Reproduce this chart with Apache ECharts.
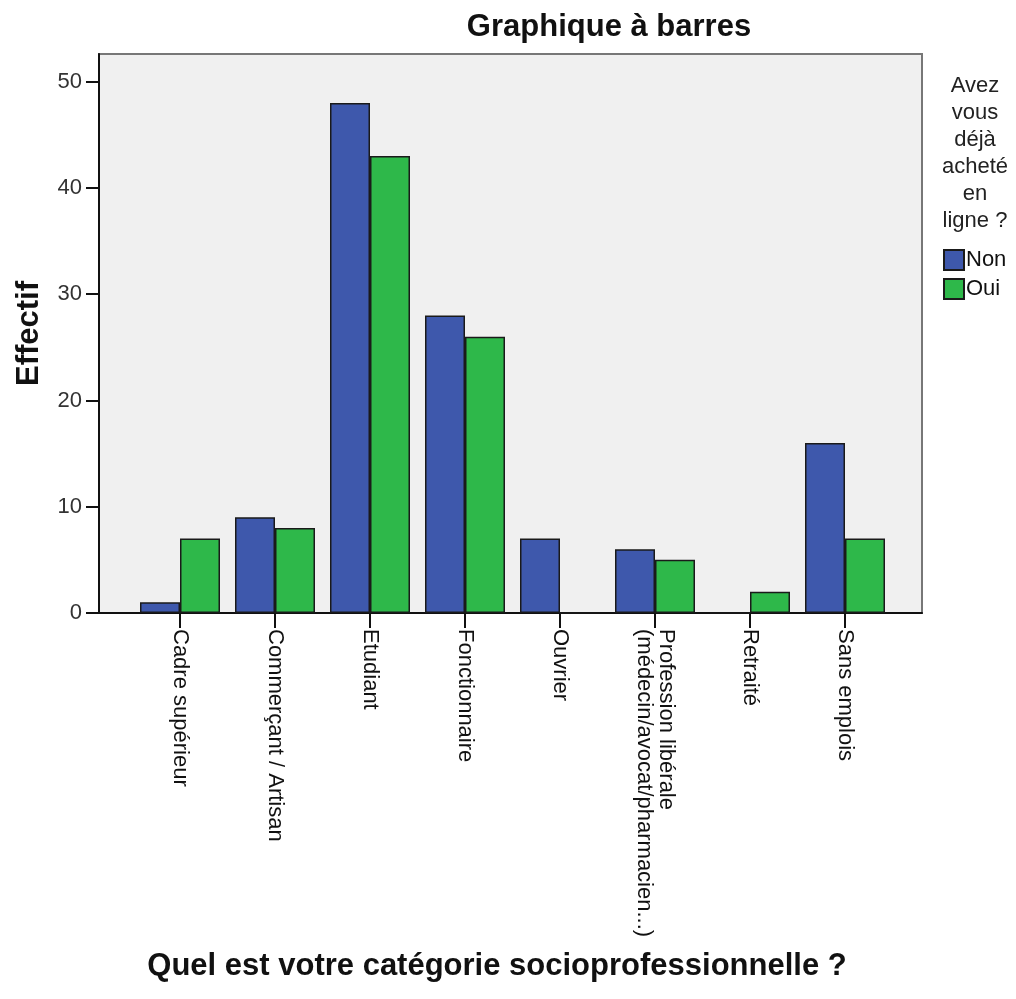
<!DOCTYPE html>
<html>
<head>
<meta charset="utf-8">
<script src="https://cdn.jsdelivr.net/npm/echarts@6/dist/echarts.min.js"></script>
<style>
  html, body { margin: 0; padding: 0; background: #fff; }
  #chart { width: 1016px; height: 999px; }
</style>
</head>
<body>
<div id="chart"></div>
<script>
// catégories socioprofessionnelles
const categories = [
  'Cadre supérieur',
  'Commerçant / Artisan',
  'Etudiant',
  'Fonctionnaire',
  'Ouvrier',
  'Profession libérale\n(médecin/avocat/pharmacien...)',
  'Retraité',
  'Sans emplois'
]
const nonValues = [1, 9, 48, 28, 7, 6, 0, 16]
const ouiValues = [7, 8, 43, 26, 0, 5, 2, 7]
const yTicks = [0, 10, 20, 30, 40, 50]
const yMax = 52.6

const font = '"Liberation Sans", Arial, sans-serif'

const myChart = echarts.init(document.getElementById('chart'))
myChart.setOption({
  textStyle: { fontFamily: font },
  animation: false,
  color: ['#3e58ac', '#2eb84a'],
  graphic: [
    {
      type: 'text', x: 609, y: 27,
      style: { text: 'Graphique à barres', font: 'bold 31px ' + font, fill: '#111', textAlign: 'center', textVerticalAlign: 'middle' }
    },
    {
      type: 'text', x: 497, y: 966,
      style: { text: 'Quel est votre catégorie socioprofessionnelle ?', font: 'bold 31px ' + font, fill: '#111', textAlign: 'center', textVerticalAlign: 'middle' }
    },
    {
      type: 'text', x: 975, y: 72,
      style: { text: 'Avez\nvous\ndéjà\nacheté\nen\nligne ?', font: '22px ' + font, lineHeight: 27, fill: '#222', textAlign: 'center', textVerticalAlign: 'top' }
    }
  ],
  legend: {
    data: ['Non', 'Oui'],
    orient: 'vertical',
    left: 943,
    top: 249,
    padding: 0,
    itemWidth: 20,
    itemHeight: 20,
    itemGap: 7,
    icon: 'rect',
    textStyle: { fontSize: 22, color: '#111', padding: [0, 0, 0, -3] }
  },
  grid: [
    // cadre du graphique (fond gris)
    { left: 99, top: 54, width: 823, height: 559, show: true, backgroundColor: '#f0f0f0', borderColor: '#777', borderWidth: 2 },
    // zone des barres
    { left: 132.5, top: 54, width: 760, height: 559 }
  ],
  xAxis: [
    {
      gridIndex: 0, type: 'value', min: 0, max: 1,
      axisLine: { show: true, lineStyle: { color: '#111', width: 2 } },
      axisTick: { show: false }, axisLabel: { show: false }, splitLine: { show: false }
    },
    {
      gridIndex: 1, type: 'category', data: categories,
      axisLine: { show: false },
      axisTick: { show: true, alignWithLabel: true, length: 15, lineStyle: { color: '#111', width: 2 } },
      axisLabel: { rotate: -90, interval: 0, margin: 16, fontSize: 22, color: '#111', lineHeight: 22, padding: [8, 0, 0, 0] },
      splitLine: { show: false }
    }
  ],
  yAxis: [
    {
      gridIndex: 0, type: 'value', min: 0, max: yMax,
      name: 'Effectif', nameLocation: 'middle', nameGap: 54,
      nameTextStyle: { fontSize: 31, fontWeight: 'bold', color: '#111' },
      axisLine: { show: true, lineStyle: { color: '#111', width: 2 } },
      axisTick: { show: true, length: 13, customValues: yTicks, lineStyle: { color: '#111', width: 2 } },
      axisLabel: { customValues: yTicks, margin: 17, fontSize: 22, color: '#333' },
      splitLine: { show: false }
    },
    { gridIndex: 1, type: 'value', min: 0, max: yMax, show: false }
  ],
  series: [
    {
      name: 'Non', type: 'bar', xAxisIndex: 1, yAxisIndex: 1,
      data: nonValues, barWidth: 40, barGap: '0%',
      itemStyle: { borderColor: '#1a1a1a', borderWidth: 1.5 }
    },
    {
      name: 'Oui', type: 'bar', xAxisIndex: 1, yAxisIndex: 1,
      data: ouiValues, barWidth: 40, barGap: '0%',
      itemStyle: { borderColor: '#1a1a1a', borderWidth: 1.5 }
    }
  ]
})
</script>
</body>
</html>
